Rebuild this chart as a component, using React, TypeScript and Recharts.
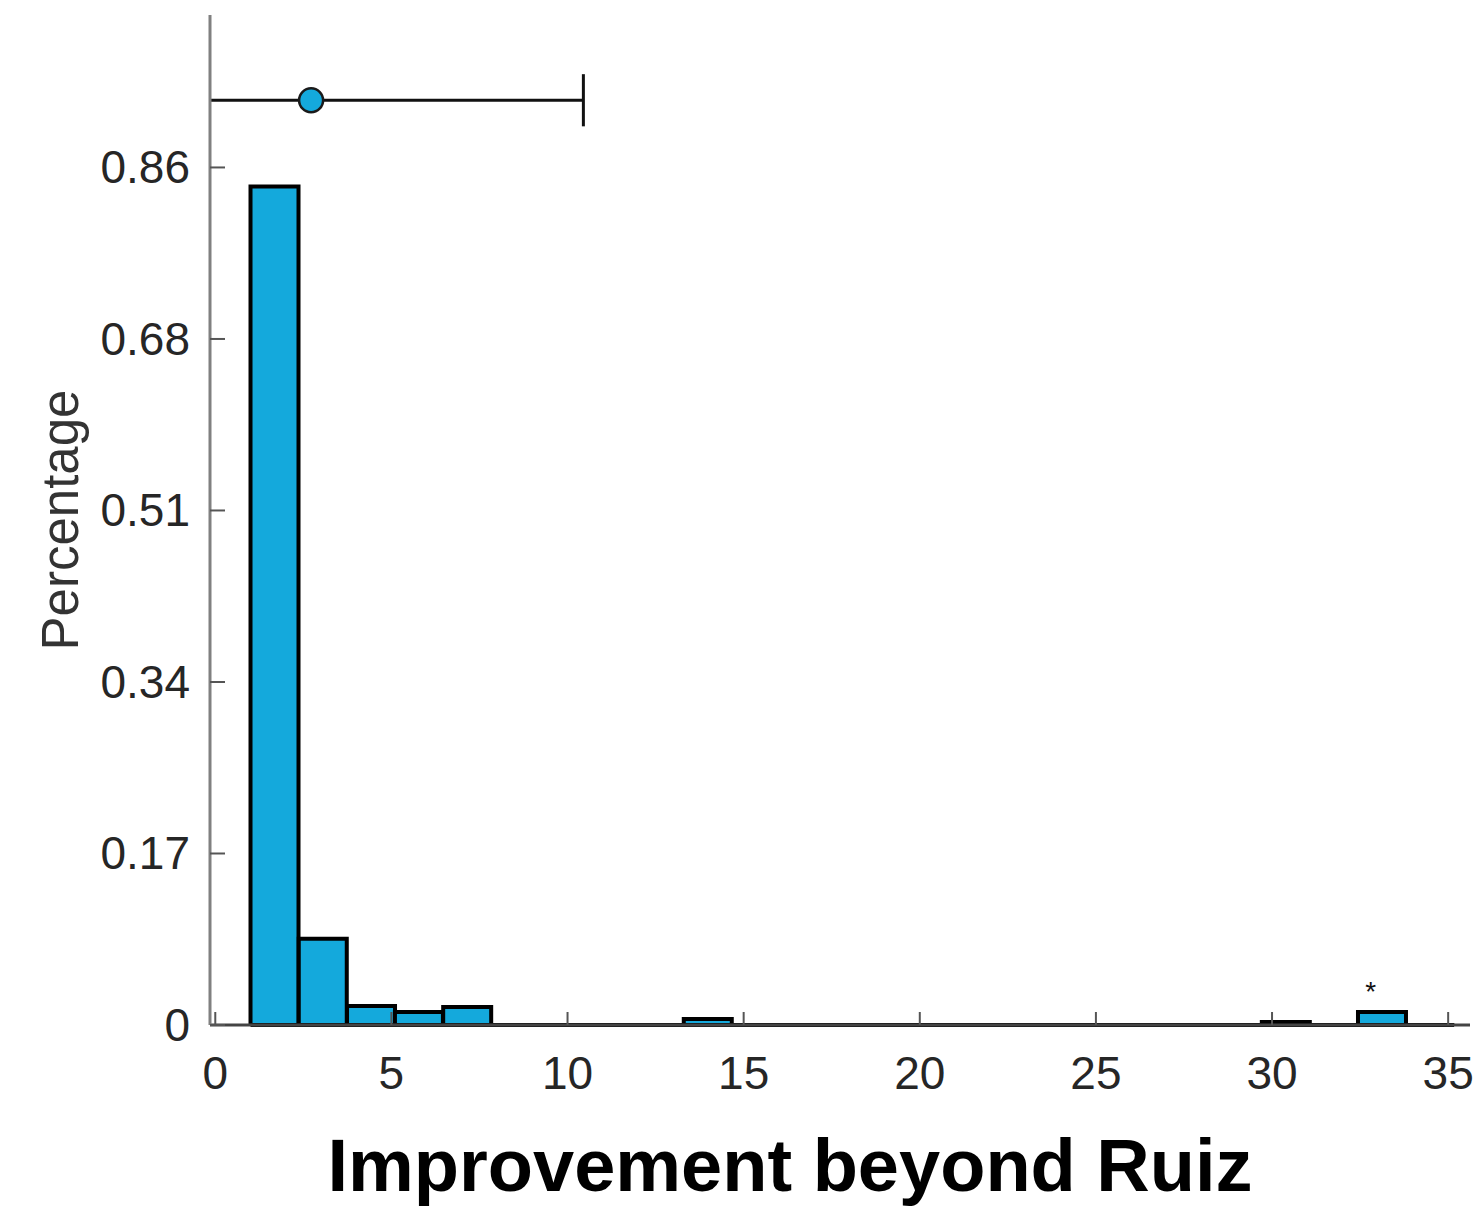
import { ComposedChart, Bar, XAxis, YAxis, Scatter, ReferenceLine, Label } from 'recharts'

// histogram bins (centre of each bin) and the share of runs falling in it
const binCenters = [
  1.68, 3.05, 4.42, 5.78, 7.15, 8.52, 9.88, 11.25, 12.62, 13.98, 15.35, 16.72, 18.09,
  19.45, 20.82, 22.19, 23.55, 24.92, 26.29, 27.65, 29.02, 30.39, 31.75, 33.12, 34.49,
]
const binShares = [
  0.836, 0.086, 0.019, 0.013, 0.018, 0, 0, 0, 0, 0.006, 0, 0, 0,
  0, 0, 0, 0, 0, 0, 0, 0, 0.003, 0, 0.013, 0,
]
// outer edges of the first and last bin
const binRange = [1.0, 35.17]

const xTicks = [0, 5, 10, 15, 20, 25, 30, 35]
const yTicks = [0, 0.171, 0.342, 0.513, 0.684, 0.855]
const yTickLabels = ['0', '0.17', '0.34', '0.51', '0.68', '0.86']

// mean with its interval, drawn above the bars
const meanPoint = [{ x: 2.72, y: 0.922 }]
const intervalEnds = [-0.15, 10.45]
const capSpan = [0.896, 0.948]

// outlier flag
const starMarks = [{ x: 32.8, y: 0.036 }]

const X_DOMAIN: [number, number] = [-0.15, 35.62]
const Y_DOMAIN: [number, number] = [0, 1.007]
const BLUE = '#14a9dc'
const FONT = '"Liberation Sans", Arial, Helvetica, sans-serif'

const bins = binCenters.map((x, i) => ({ x, pct: binShares[i] }))

// outlined rectangle, like a matlab histogram bar
const HistBar = (props: any) => {
  const { x, y, width, height } = props
  return (
    <path
      d={`M${x},${y}h${width}v${height}h${-width}Z`}
      fill={BLUE}
      stroke="#000"
      strokeWidth={4}
    />
  )
}

const YTick = ({ x, y, payload }: any) => {
  const i = yTicks.indexOf(payload.value)
  return (
    <g>
      <line x1={x} x2={x + 15} y1={y} y2={y} stroke="#555" strokeWidth={2} />
      <text x={x - 20} y={y + 16} textAnchor="end" fontSize={46} fill="#262626" fontFamily={FONT}>
        {yTickLabels[i]}
      </text>
    </g>
  )
}

const XTick = ({ x, y, payload }: any) => (
  <g>
    <line x1={x} x2={x} y1={y} y2={y - 13} stroke="#555" strokeWidth={2} />
    <text x={x} y={y + 64} textAnchor="middle" fontSize={46} fill="#262626" fontFamily={FONT}>
      {payload.value}
    </text>
  </g>
)

const MeanDot = ({ cx, cy }: any) => (
  <circle cx={cx} cy={cy} r={12} fill={BLUE} stroke="#1a1a1a" strokeWidth={2.5} />
)

const Star = ({ cx, cy }: any) => (
  <text x={cx} y={cy + 12} textAnchor="middle" fontSize={28} fill="#111" fontFamily={FONT}>
    *
  </text>
)

export default function App() {
  return (
    <div style={{ position: 'absolute', left: 0, top: 0, background: '#fff' }}>
      <ComposedChart
        width={1481}
        height={1206}
        data={bins}
        margin={{ top: 15, right: 11, bottom: 0, left: 0 }}
        barCategoryGap={0}
        barGap={0}
      >
        <XAxis
          xAxisId="bins"
          dataKey="x"
          type="number"
          domain={X_DOMAIN}
          allowDataOverflow
          ticks={xTicks}
          interval={0}
          height={181}
          tickSize={0}
          tickMargin={0}
          tickLine={false}
          tick={<XTick />}
          axisLine={{ stroke: '#444', strokeWidth: 3 }}
        >
          <Label
            content={({ viewBox }: any) => (
              <text
                x={viewBox.x + viewBox.width / 2 - 50}
                y={viewBox.y + 166}
                textAnchor="middle"
                fontSize={74}
                fontWeight="bold"
                fill="#000"
                fontFamily={FONT}
              >
                Improvement beyond Ruiz
              </text>
            )}
          />
        </XAxis>
        <XAxis xAxisId="marks" dataKey="x" type="number" domain={X_DOMAIN} allowDataOverflow hide />
        <YAxis
          type="number"
          domain={Y_DOMAIN}
          allowDataOverflow
          ticks={yTicks}
          interval={0}
          width={210}
          tickSize={0}
          tickMargin={0}
          tickLine={false}
          tick={<YTick />}
          axisLine={{ stroke: '#808080', strokeWidth: 3 }}
        >
          <Label
            content={({ viewBox }: any) => {
              const cx = viewBox.x + 78
              const cy = viewBox.y + viewBox.height / 2
              return (
                <text
                  x={cx}
                  y={cy}
                  transform={`rotate(-90 ${cx} ${cy})`}
                  textAnchor="middle"
                  fontSize={51}
                  fill="#333"
                  fontFamily={FONT}
                >
                  Percentage
                </text>
              )
            }}
          />
        </YAxis>
        {/* empty bins leave their outline on the baseline */}
        <ReferenceLine
          xAxisId="marks"
          segment={[
            { x: binRange[0], y: 0 },
            { x: binRange[1], y: 0 },
          ]}
          stroke="#000"
          strokeWidth={4}
          ifOverflow="visible"
        />
        <Bar xAxisId="bins" dataKey="pct" shape={<HistBar />} isAnimationActive={false} />
        <ReferenceLine
          xAxisId="marks"
          segment={[
            { x: intervalEnds[0], y: meanPoint[0].y },
            { x: intervalEnds[1], y: meanPoint[0].y },
          ]}
          stroke="#111"
          strokeWidth={3}
          ifOverflow="visible"
        />
        <ReferenceLine
          xAxisId="marks"
          segment={[
            { x: intervalEnds[1], y: capSpan[0] },
            { x: intervalEnds[1], y: capSpan[1] },
          ]}
          stroke="#111"
          strokeWidth={3}
          ifOverflow="visible"
        />
        <Scatter xAxisId="marks" data={meanPoint} dataKey="y" shape={<MeanDot />} isAnimationActive={false} />
        <Scatter xAxisId="marks" data={starMarks} dataKey="y" shape={<Star />} isAnimationActive={false} />
      </ComposedChart>
    </div>
  )
}
